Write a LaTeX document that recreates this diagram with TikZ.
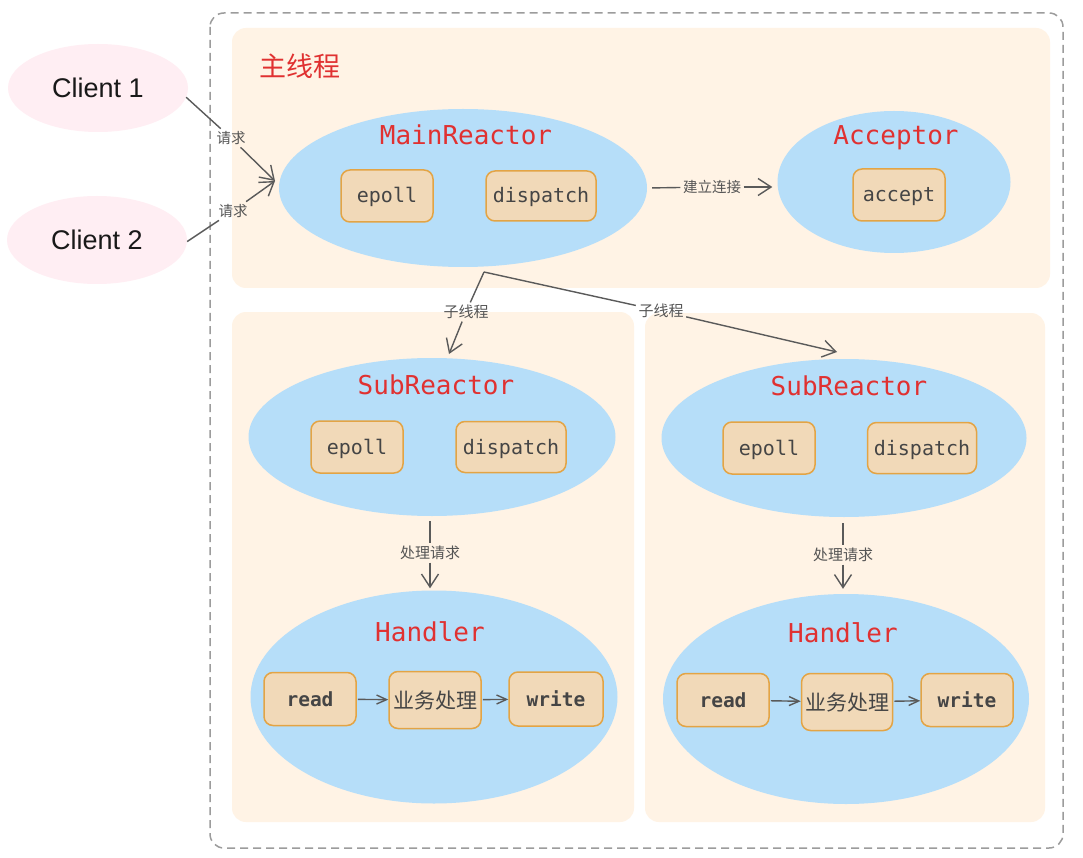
\documentclass[tikz,border=0pt]{standalone}
\usepackage{fontspec}
\setmainfont{Noto Sans CJK SC}
\setmonofont{DejaVu Sans Mono}
\newfontfamily\clientfont{Liberation Sans}
\usetikzlibrary{shapes.geometric,arrows.meta}
\definecolor{panel}{HTML}{FFF3E5}
\definecolor{ellblue}{HTML}{B6DEF9}
\definecolor{clipink}{HTML}{FFEEF3}
\definecolor{titlered}{HTML}{E03131}
\definecolor{boxfill}{HTML}{F1D9B8}
\definecolor{boxedge}{HTML}{E3A445}
\definecolor{boxtext}{HTML}{454545}
\definecolor{lbltext}{HTML}{555555}
\definecolor{arrowgray}{HTML}{5A5A5A}
\definecolor{dashgray}{HTML}{9C9C9C}
\tikzset{
 panelbox/.style={fill=panel, draw=none, rounded corners=14pt},
 ell/.style={ellipse, fill=ellblue, draw=none, inner sep=0pt},
 cli/.style={ellipse, fill=clipink, draw=none, inner sep=0pt, minimum width=180pt, minimum height=88pt, font=\clientfont\fontsize{27}{30}\selectfont, text=black!90},
 ttl/.style={font=\ttfamily\fontsize{26}{30}\selectfont, text=titlered, inner sep=0pt},
 ibox/.style={draw=boxedge, fill=boxfill, line width=1.5pt, rounded corners=9pt, minimum width=92pt, minimum height=52pt, inner sep=0pt, text height=14pt, text depth=0pt, font=\ttfamily\fontsize{20}{24}\selectfont, text=boxtext},
 bbox/.style={ibox, font=\ttfamily\bfseries\fontsize{19.5}{24}\selectfont},
 lbl/.style={font=\fontsize{14.5}{16}\selectfont, text=lbltext, inner sep=2.5pt},
 conn/.style={draw=arrowgray, line width=1.4pt},
 bigtip/.style={-{Straight Barb[length=13pt,width=17pt]}},
 smalltip/.style={-{Straight Barb[length=10pt,width=9pt]}},
}
\begin{document}
\begin{tikzpicture}[x=1pt,y=-1pt]
\fill[white] (0,0) rectangle (1083,858);
\useasboundingbox (0,0) rectangle (1083,858);
% outer dashed frame
\draw[draw=dashgray, line width=1.5pt, dash pattern=on 8pt off 5pt, rounded corners=14pt] (210,13) rectangle (1063,848);
% panels
\fill[panelbox] (232,28) rectangle (1050,288);
\fill[panelbox] (232,312) rectangle (634,822);
\fill[panelbox] (645,313) rectangle (1045,822);
\node[font=\fontsize{27}{30}\selectfont, text=titlered] (mainlbl) at (300,66) {主线程};
% clients
\node[cli] (c1) at (98,88) {Client 1};
\node[cli] (c2) at (97,240) {Client 2};
% main reactor
\node[ell, minimum width=368pt, minimum height=158pt] (mr) at (463,188) {};
\node[ttl] (mrt) at (466,135) {MainReactor};
\node[ibox] (mre) at (387,196) {epoll};
\node[ibox, minimum width=110pt, minimum height=50pt] (mrd) at (541,196) {dispatch};
% acceptor
\node[ell, minimum width=233pt, minimum height=142pt] (acc) at (894,182) {};
\node[ttl] (acct) at (896,138) {Acceptor};
\node[ibox] (acca) at (899,195) {accept};
% sub reactor left
\node[ell, minimum width=367pt, minimum height=158pt] (sr1) at (432,437) {};
\node[ttl] (sr1t) at (436,385) {SubReactor};
\node[ibox] (sr1e) at (357,447) {epoll};
\node[ibox, minimum width=110pt, minimum height=51pt] (sr1d) at (511,447) {dispatch};
% handler left
\node[ell, minimum width=367pt, minimum height=213pt] (h1) at (434,697) {};
\node[ttl] (h1t) at (430,632) {Handler};
\node[bbox, minimum height=53pt] (h1r) at (310,699) {read};
\node[ibox, minimum height=57pt, text height=16pt, font=\fontsize{21}{24}\selectfont] (h1b) at (435,700) {业务处理};
\node[bbox, minimum width=94pt, minimum height=54pt] (h1w) at (556,699) {write};
% sub reactor right
\node[ell, minimum width=365pt, minimum height=158pt] (sr2) at (844,438) {};
\node[ttl] (sr2t) at (849,386) {SubReactor};
\node[ibox] (sr2e) at (769,448) {epoll};
\node[ibox, minimum width=109pt, minimum height=51pt] (sr2d) at (922,448) {dispatch};
% handler right
\node[ell, minimum width=366pt, minimum height=210pt] (h2) at (846,699) {};
\node[ttl] (h2t) at (843,633) {Handler};
\node[bbox, minimum height=53pt] (h2r) at (723,700) {read};
\node[ibox, minimum width=91pt, minimum height=57pt, text height=16pt, font=\fontsize{21}{24}\selectfont] (h2b) at (847,702) {业务处理};
\node[bbox, minimum height=53pt] (h2w) at (967,700) {write};
% labels on connectors
\node[lbl] (l1) at (231,138) {请求};
\node[lbl] (l2) at (233,211) {请求};
\node[lbl] (lj) at (712,187) {建立连接};
\node[lbl, font=\fontsize{15}{16}\selectfont] (ls1) at (466,312) {子线程};
\node[lbl, font=\fontsize{15}{16}\selectfont] (ls2) at (661,311) {子线程};
\node[lbl, font=\fontsize{15}{16}\selectfont] (lp1) at (430,553) {处理请求};
\node[lbl, font=\fontsize{15}{16}\selectfont] (lp2) at (843,555) {处理请求};
\coordinate (mrin) at (275,181);
\coordinate (fork) at (484,272);
\coordinate (t1) at (449,354);
\coordinate (t2) at (837,352);
% connectors
\draw[conn] (c1.-6) -- (l1);
\draw[conn, bigtip] (l1) -- (mrin);
\draw[conn] (c2.-1) -- (l2);
\draw[conn, bigtip] (l2) -- (mrin);
\draw[conn, shorten <=5pt] (mr.east) -- (lj);
\draw[conn, bigtip, shorten >=5pt] (lj) -- (lj -| acc.west);
\draw[conn] (fork) -- (ls1);
\draw[conn, bigtip] (ls1) -- (t1);
\draw[conn] (fork) -- (ls2);
\draw[conn, bigtip] (ls2) -- (t2);
\draw[conn, shorten <=5pt] (sr1.south -| lp1) -- (lp1);
\draw[conn, bigtip, shorten >=2pt] (lp1) -- (h1.north -| lp1);
\draw[conn, shorten <=6pt] (sr2.south -| lp2) -- (lp2);
\draw[conn, bigtip, shorten >=5pt] (lp2) -- (h2.north -| lp2);
\draw[conn, smalltip, shorten <=1pt] (h1r) -- (h1b);
\draw[conn, smalltip, shorten <=1pt] (h1b) -- (h1w);
\draw[conn, smalltip, shorten <=1pt] (h2r) -- (h2b);
\draw[conn, smalltip, shorten <=1pt] (h2b) -- (h2w);
\end{tikzpicture}
\end{document}
